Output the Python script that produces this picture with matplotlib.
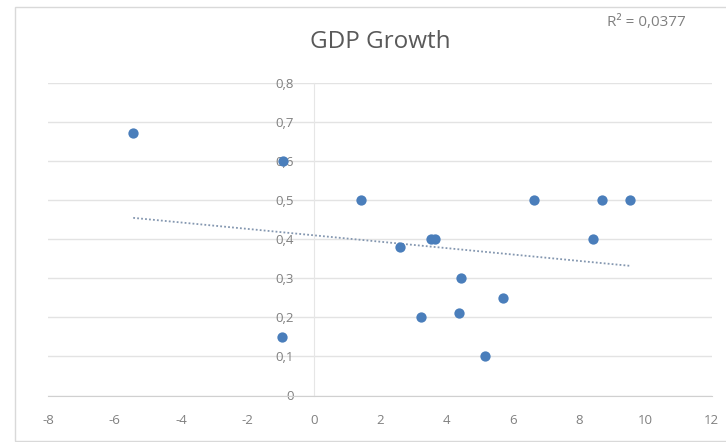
import matplotlib
matplotlib.use("Agg")
import matplotlib.pyplot as plt
import numpy as np
from matplotlib.patches import Rectangle

# Data
gdp_x = [-5.44, -0.93, -0.96, 1.43, 2.60, 3.55, 3.65, 4.43, 4.37, 3.23, 5.16, 5.72, 6.64, 8.43, 8.68, 9.54]
val_y = [0.67, 0.60, 0.15, 0.50, 0.38, 0.40, 0.40, 0.30, 0.21, 0.20, 0.10, 0.25, 0.50, 0.40, 0.50, 0.50]

x_ticks = [-8, -6, -4, -2, 0, 2, 4, 6, 8, 10, 12]
x_ticklabels = ["-8", "-6", "-4", "-2", "0", "2", "4", "6", "8", "10", "12"]
y_ticks = [0, 0.1, 0.2, 0.3, 0.4, 0.5, 0.6, 0.7, 0.8]
y_ticklabels = ["0", "0,1", "0,2", "0,3", "0,4", "0,5", "0,6", "0,7", "0,8"]
title = "GDP Growth"
r2_text = "R² = 0,0377"

plt.rcParams['font.family'] = ['Open Sans', 'DejaVu Sans']

fig = plt.figure(figsize=(7.26, 4.42), dpi=100)
fig.patch.set_facecolor('white')
# chart frame
fig.add_artist(Rectangle((15/726, 1-441/442), 1.2, 434/442, transform=fig.transFigure,
                         fill=False, edgecolor='#d9d9d9', linewidth=1.0))

ax = fig.add_axes([48.3/726, 1-395.5/442, (711.7-48.3)/726, (395.5-82.5)/442])
ax.set_xlim(-8, 12)
ax.set_ylim(0, 0.8)

ax.set_yticks(y_ticks)
ax.set_yticklabels(y_ticklabels)
ax.set_xticks(x_ticks)
ax.set_xticklabels(x_ticklabels)

ax.grid(axis='y', color='#e3e3e3', linewidth=1.0)
ax.set_axisbelow(True)

for s in ['top', 'right']:
    ax.spines[s].set_visible(False)
ax.spines['left'].set_position(('data', 0))
ax.spines['left'].set_color('#e6e6e6')
ax.spines['bottom'].set_color('#d0d0d0')
ax.tick_params(axis='both', length=0, labelsize=9.5, labelcolor='#808080')
ax.tick_params(axis='y', pad=14)
ax.tick_params(axis='x', pad=13)

ax.scatter(gdp_x, val_y, s=55, color='#4A7EBB', zorder=3, linewidths=0)

# linear trendline over data range
coef = np.polyfit(gdp_x, val_y, 1)
xs = np.array([min(gdp_x), max(gdp_x)])
ax.plot(xs, np.polyval(coef, xs), linestyle=(0, (1, 1.2)), color='#8497b0',
        linewidth=1.3, zorder=2)

fig.text(380/726, 1-42/442, title, ha='center', va='center', fontsize=17.5, color='#595959')
fig.text(646/726, 1-23/442, r2_text, ha='center', va='center', fontsize=11, color='#808080')

fig.savefig("out.png", dpi=100)
